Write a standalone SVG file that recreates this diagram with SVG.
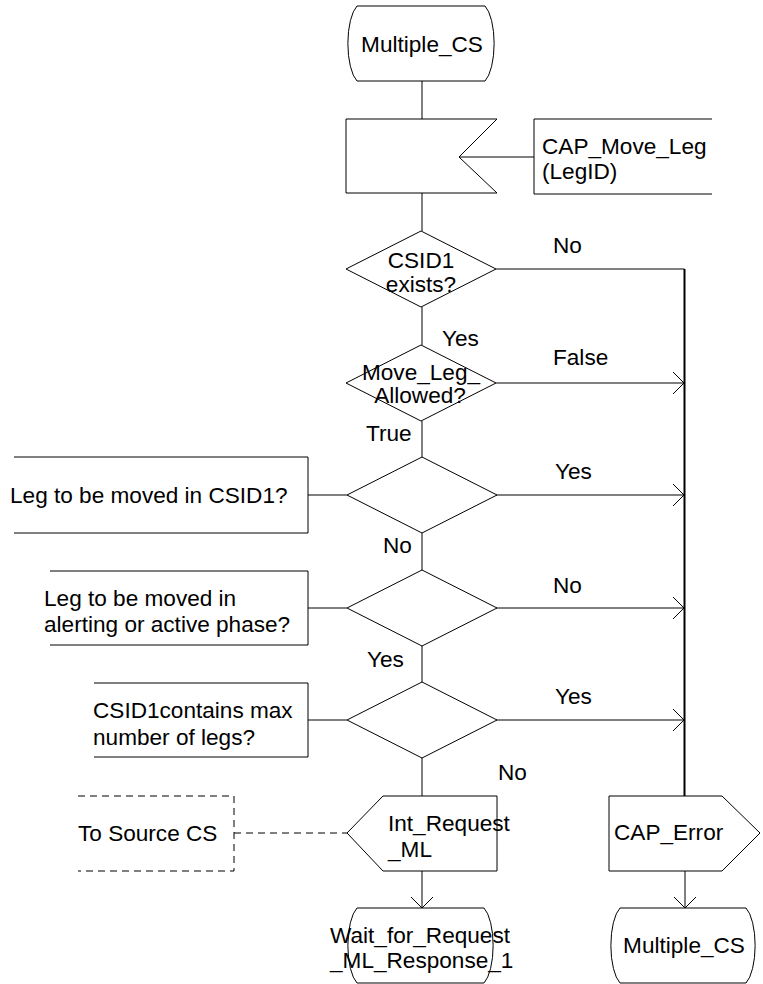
<svg xmlns="http://www.w3.org/2000/svg" width="763" height="984" viewBox="0 0 763 984">
<style>
.s{fill:#fff;stroke:#000;stroke-width:1}
.l{fill:none;stroke:#000;stroke-width:1}
.d{fill:none;stroke:#000;stroke-width:1;stroke-dasharray:7 5}
text{font-family:"Liberation Sans",Arial,sans-serif;font-size:22.6px;fill:#000}
.c{text-anchor:middle}
</style>
<defs>
<marker id="ah" markerUnits="userSpaceOnUse" viewBox="-13 -13 14 26" refX="0" refY="0" markerWidth="14" markerHeight="26" orient="auto">
<path d="M-11,-11 L0,0 L-11,11" fill="none" stroke="#000" stroke-width="1"/>
</marker>
</defs>
<g id="connectors">
<line class="l" x1="422" y1="81" x2="422" y2="119"/>
<line class="l" x1="422" y1="193" x2="422" y2="231"/>
<line class="l" x1="459" y1="157" x2="534" y2="157"/>
<line class="l" x1="422" y1="307" x2="422" y2="345"/>
<line class="l" x1="422" y1="421" x2="422" y2="457"/>
<line class="l" x1="422" y1="533" x2="422" y2="570"/>
<line class="l" x1="422" y1="646" x2="422" y2="682"/>
<line class="l" x1="422" y1="758" x2="422" y2="796"/>
<line class="l" x1="422" y1="871" x2="422" y2="908" marker-end="url(#ah)"/>
<line class="l" x1="308" y1="495" x2="347" y2="495"/>
<line class="l" x1="308" y1="608" x2="347" y2="608"/>
<line class="l" x1="308" y1="720" x2="347" y2="720"/>
<line class="d" x1="234" y1="833" x2="347" y2="833"/>
<polyline class="l" points="496,269 684.5,269"/>
<line x1="684.5" y1="269" x2="684.5" y2="796" stroke="#000" stroke-width="2"/>
<line class="l" x1="496" y1="383" x2="684" y2="383" marker-end="url(#ah)"/>
<line class="l" x1="496" y1="495" x2="684" y2="495" marker-end="url(#ah)"/>
<line class="l" x1="496" y1="608" x2="684" y2="608" marker-end="url(#ah)"/>
<line class="l" x1="496" y1="720" x2="684" y2="720" marker-end="url(#ah)"/>
<line class="l" x1="685" y1="871" x2="685" y2="908" marker-end="url(#ah)"/>
<text x="553" y="253">No</text>
<text x="442" y="346">Yes</text>
<text x="553" y="365">False</text>
<text x="366" y="441">True</text>
<text x="555" y="479">Yes</text>
<text x="383" y="553">No</text>
<text x="553" y="593">No</text>
<text x="367" y="667">Yes</text>
<text x="555" y="704">Yes</text>
<text x="498" y="780">No</text>
</g>
<g id="start_state">
<path class="s" d="M357,6 H485 A14 40 0 0 1 485 81 H357 A14 40 0 0 1 357 6 Z"/>
<text class="c" x="422" y="52">Multiple_CS</text>
</g>
<g id="input_cap_move_leg">
<polygon class="s" points="346,119 497,119 459,157 497,193 346,193"/>
</g>
<g id="comment_cap_move_leg">
<polyline class="l" points="712,119 534,119 534,194 712,194"/>
<text x="542" y="154">CAP_Move_Leg</text>
<text x="542" y="179">(LegID)</text>
</g>
<g id="dec_csid1_exists">
<polygon class="s" points="421,231 496,269 421,307 346,269"/>
<text class="c" x="421" y="268">CSID1</text>
<text class="c" x="421" y="292">exists?</text>
</g>
<g id="dec_move_leg_allowed">
<polygon class="s" points="421,345 496,383 421,421 346,383"/>
<text class="c" x="421" y="380">Move_Leg_</text>
<text class="c" x="420" y="403">Allowed?</text>
</g>
<g id="dec_leg_in_csid1">
<polygon class="s" points="422,457 497,495 422,533 347,495"/>
</g>
<g id="comment_leg_in_csid1">
<polyline class="l" points="14,457 308,457 308,533 14,533"/>
<text x="10" y="503">Leg to be moved in CSID1?</text>
</g>
<g id="dec_alerting_active">
<polygon class="s" points="422,570 497,608 422,646 347,608"/>
</g>
<g id="comment_alerting_active">
<polyline class="l" points="50,571 308,571 308,645 50,645"/>
<text x="44" y="606">Leg to be moved in</text>
<text x="44" y="632">alerting or active phase?</text>
</g>
<g id="dec_max_legs">
<polygon class="s" points="422,682 497,720 422,758 347,720"/>
</g>
<g id="comment_max_legs">
<polyline class="l" points="94,683 308,683 308,757 94,757"/>
<text x="93" y="718">CSID1contains max</text>
<text x="93" y="745">number of legs?</text>
</g>
<g id="output_int_request_ml">
<polygon class="s" points="383,796 497,796 497,871 383,871 347,833"/>
<text x="388" y="831">Int_Request</text>
<text x="388" y="857">_ML</text>
</g>
<g id="comment_to_source_cs">
<polyline class="d" points="78,796 234,796 234,871 78,871"/>
<text x="78" y="841">To Source CS</text>
</g>
<g id="output_cap_error">
<polygon class="s" points="609,796 722,796 760,833 722,871 609,871"/>
<text x="614" y="840">CAP_Error</text>
</g>
<g id="state_wait">
<path class="s" d="M357,908 H484 A14 40 0 0 1 484 983 H357 A14 40 0 0 1 357 908 Z"/>
<text x="330" y="943">Wait_for_Request</text>
<text x="330" y="968">_ML_Response_1</text>
</g>
<g id="state_multiple_cs_end">
<path class="s" d="M620,908 H746 A14 40 0 0 1 746 983 H620 A14 40 0 0 1 620 908 Z"/>
<text class="c" x="684" y="953">Multiple_CS</text>
</g>
</svg>
